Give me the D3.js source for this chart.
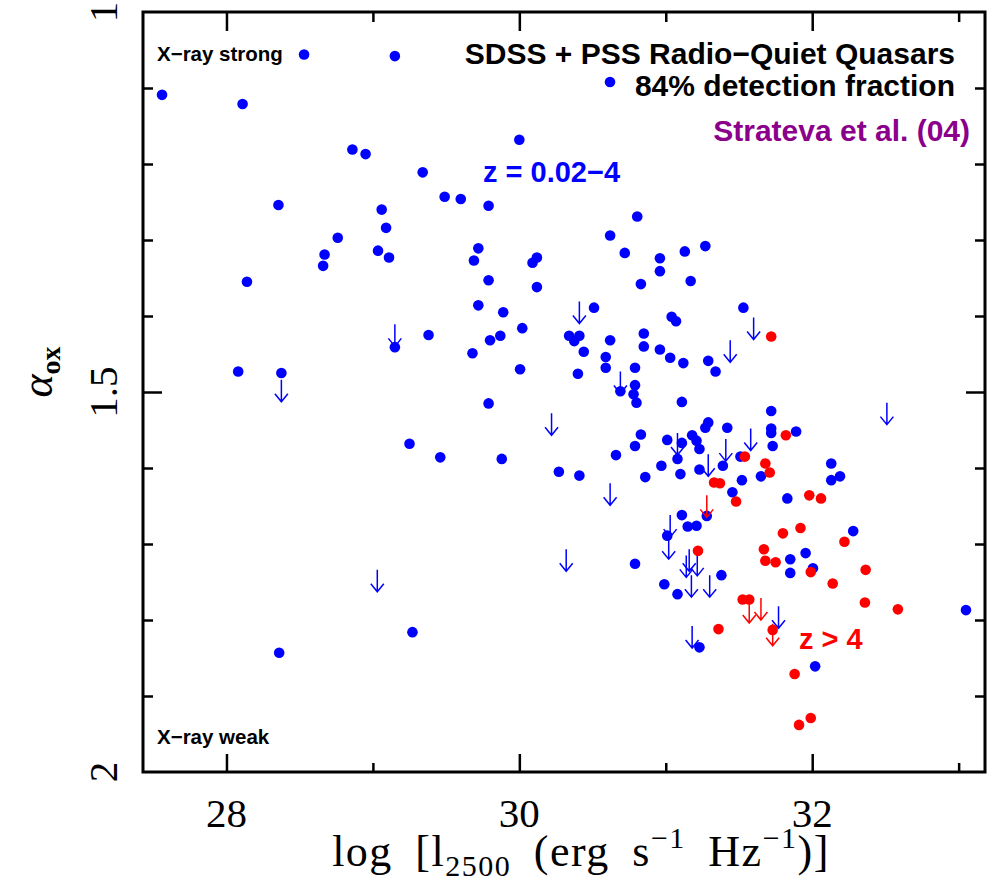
<!DOCTYPE html>
<html>
<head>
<meta charset="utf-8">
<script src="https://cdn.jsdelivr.net/npm/d3@7"></script>
<style>
  body { margin: 0; background: #fff; }
  .lab { font-family: "Liberation Sans", Arial, sans-serif; font-weight: bold; }
  .ser { font-family: "Liberation Serif", "DejaVu Serif", serif; }
</style>
</head>
<body>
<div id="chart"></div>
<script>
// blue: z = 0.02-4 detections
const blueX = [28.53, 29.15, 27.56, 28.11, 28.86, 28.95, 30.00, 29.34, 29.49, 29.60,
  29.79, 28.355, 29.06, 29.09, 28.76, 29.035, 28.67, 29.11, 29.72, 29.69,
  30.12, 30.09, 30.805, 30.62, 30.72, 30.96, 31.13, 31.27, 28.66, 28.14,
  29.79, 30.12, 29.72, 29.89, 30.02, 29.38, 29.15, 29.87, 29.80, 29.68,
  30.005, 28.08, 28.375, 29.79, 29.25, 29.46, 29.88, 30.27, 30.96, 30.83,
  31.17, 30.51, 31.53, 31.04, 31.07, 30.34, 30.41, 30.375, 30.62, 30.85,
  30.85, 30.96, 30.44, 30.59, 30.59, 31.03, 31.12, 31.29, 31.34, 30.79,
  30.40, 30.69, 30.79, 30.78, 30.80, 31.11, 31.72, 31.72, 31.72, 31.89,
  31.27, 31.29, 31.42, 30.83, 30.79, 30.66, 31.01, 31.11, 31.18, 31.21,
  31.23, 31.08, 31.51, 31.39, 31.65, 30.97, 31.23, 30.41, 30.86, 31.10,
  32.13, 32.13, 32.19, 31.52, 31.455, 31.83, 31.73, 31.11, 31.28, 31.15,
  31.21, 31.01, 30.79, 31.38, 30.99, 31.08, 32.28, 31.85, 31.955, 31.85,
  32.005, 33.05, 31.23, 32.02, 29.27, 28.36];
const blueY = [1.056, 1.058, 1.109, 1.121, 1.181, 1.187, 1.168, 1.211, 1.243, 1.246,
  1.255, 1.254, 1.260, 1.284, 1.297, 1.314, 1.319, 1.323, 1.311, 1.327,
  1.323, 1.330, 1.269, 1.294, 1.317, 1.324, 1.315, 1.308, 1.334, 1.355,
  1.353, 1.362, 1.386, 1.395, 1.416, 1.425, 1.441, 1.426, 1.432, 1.449,
  1.470, 1.473, 1.475, 1.515, 1.568, 1.586, 1.588, 1.605, 1.341, 1.358,
  1.354, 1.389, 1.389, 1.401, 1.407, 1.426, 1.426, 1.433, 1.432, 1.423,
  1.440, 1.444, 1.447, 1.454, 1.468, 1.455, 1.462, 1.459, 1.473, 1.468,
  1.476, 1.499, 1.491, 1.503, 1.514, 1.513, 1.525, 1.548, 1.554, 1.552,
  1.547, 1.540, 1.547, 1.556, 1.571, 1.583, 1.563, 1.567, 1.557, 1.564,
  1.575, 1.588, 1.585, 1.597, 1.611, 1.597, 1.602, 1.610, 1.612, 1.608,
  1.594, 1.616, 1.611, 1.616, 1.632, 1.640, 1.571, 1.662, 1.663, 1.677,
  1.676, 1.689, 1.726, 1.741, 1.753, 1.766, 1.683, 1.720, 1.712, 1.738,
  1.732, 1.787, 1.836, 1.861, 1.816, 1.843];

// red: z > 4 detections
const redX = [31.72, 31.82, 31.54, 31.68, 31.71, 31.33, 31.37, 31.48, 31.98, 32.06,
  31.22, 31.80, 31.92, 32.22, 31.67, 31.68, 31.75, 31.99, 32.14, 32.365,
  32.36, 32.585, 31.525, 31.57, 31.36, 31.73, 31.88, 31.99, 31.91];
const redY = [1.427, 1.557, 1.585, 1.594, 1.606, 1.619, 1.620, 1.644, 1.636, 1.640,
  1.709, 1.686, 1.679, 1.697, 1.707, 1.722, 1.724, 1.737, 1.752, 1.734,
  1.777, 1.786, 1.773, 1.773, 1.812, 1.813, 1.871, 1.929, 1.938];

// X-ray upper limits (arrows start at the value)
const blueLimX = [28.375, 29.15, 30.22, 30.41, 31.60, 31.44, 30.69, 32.51, 31.58, 31.08,
  31.41, 31.29, 30.62, 31.03, 31.02, 30.32, 31.16, 31.215, 31.175, 31.30,
  31.77, 31.18, 29.03, 31.14];
const blueLimY = [1.484, 1.411, 1.528, 1.381, 1.402, 1.432, 1.473, 1.514, 1.548, 1.554,
  1.562, 1.582, 1.620, 1.662, 1.691, 1.707, 1.707, 1.713, 1.741, 1.741,
  1.782, 1.808, 1.734, 1.715];
const redLimX = [31.28, 31.57, 31.65, 31.73];
const redLimY = [1.636, 1.775, 1.771, 1.805];

const xMajor = [28, 30, 32], xMinor = [29, 31, 33];
const yMajor = [1.5], yMinor = [1.1, 1.2, 1.3, 1.4, 1.6, 1.7, 1.8, 1.9];
const yLabels = [1, 1.5, 2];

const W = 988, H = 885;
const pLeft = 143, pRight = 985, pTop = 12, pBottom = 772;

const svg = d3.select("#chart").append("svg")
    .attr("width", W)
    .attr("height", H);

const x = d3.scaleLinear().domain([27.43, 33.18]).range([pLeft, pRight]);
const y = d3.scaleLinear().domain([1, 2]).range([pTop, pBottom]);

// ticks, all pointing inward
function tickAxis(axis, transform, vals, size) {
    const g = svg.append("g")
        .attr("transform", transform)
        .call(axis.tickValues(vals).tickSize(-size).tickFormat(""));
    g.select(".domain").remove();
    g.selectAll("line").attr("stroke", "black").attr("stroke-width", 2.5);
}
tickAxis(d3.axisBottom(x), `translate(0,${pBottom})`, xMajor, 18);
tickAxis(d3.axisBottom(x), `translate(0,${pBottom})`, xMinor, 9);
tickAxis(d3.axisTop(x), `translate(0,${pTop})`, xMajor, 19);
tickAxis(d3.axisTop(x), `translate(0,${pTop})`, xMinor, 10);
tickAxis(d3.axisLeft(y), `translate(${pLeft},0)`, yMajor, 19);
tickAxis(d3.axisLeft(y), `translate(${pLeft},0)`, yMinor, 10);
tickAxis(d3.axisRight(y), `translate(${pRight},0)`, yMajor, 19);
tickAxis(d3.axisRight(y), `translate(${pRight},0)`, yMinor, 10);

// frame
svg.append("rect")
    .attr("x", pLeft).attr("y", pTop)
    .attr("width", pRight - pLeft).attr("height", pBottom - pTop)
    .attr("fill", "none")
    .attr("stroke", "black")
    .attr("stroke-width", 3);

// tick labels
svg.selectAll(".xlab")
    .data(xMajor)
    .enter()
    .append("text")
    .attr("class", "ser")
    .attr("x", d => x(d))
    .attr("y", 827)
    .attr("text-anchor", "middle")
    .attr("font-size", 41)
    .text(d => d);

svg.selectAll(".ylab")
    .data(yLabels)
    .enter()
    .append("text")
    .attr("class", "ser")
    .attr("transform", d => `translate(117,${y(d)}) rotate(-90)`)
    .attr("text-anchor", "middle")
    .attr("font-size", 41)
    .text(d => d);

// axis titles
const xt = svg.append("text")
    .attr("class", "ser")
    .attr("x", 581)
    .attr("y", 866)
    .attr("text-anchor", "middle")
    .attr("font-size", 44)
    .attr("letter-spacing", 1.5)
    .attr("word-spacing", 10);
xt.append("tspan").text("log [l");
xt.append("tspan").attr("font-size", 30).attr("dy", 10).text("2500");
xt.append("tspan").attr("dy", -10).text(" (erg s");
xt.append("tspan").attr("font-size", 30).attr("dy", -18).text("\u22121");
xt.append("tspan").attr("dy", 18).text(" Hz");
xt.append("tspan").attr("font-size", 30).attr("dy", -18).text("\u22121");
xt.append("tspan").attr("dy", 18).text(")]");

const yt = svg.append("text")
    .attr("class", "ser")
    .attr("transform", "translate(52,372) rotate(-90)")
    .attr("text-anchor", "middle")
    .attr("font-size", 44);
yt.append("tspan").attr("font-style", "italic").text("\u03b1");
yt.append("tspan").attr("font-size", 28).attr("font-weight", "bold").attr("dy", 8).text("ox");

// upper-limit arrows
function arrows(xs, ys, color) {
    svg.selectAll(null)
        .data(xs.map((d, i) => [d, ys[i]]))
        .enter()
        .append("path")
        .attr("transform", d => `translate(${x(d[0])},${y(d[1])})`)
        .attr("d", "M0,0V22M-6.5,14L0,22L6.5,14")
        .attr("fill", "none")
        .attr("stroke", color)
        .attr("stroke-width", 1.5);
}

// dots
function dots(xs, ys, color) {
    svg.selectAll(null)
        .data(xs.map((d, i) => [d, ys[i]]))
        .enter()
        .append("circle")
        .attr("cx", d => x(d[0]))
        .attr("cy", d => y(d[1]))
        .attr("r", 5.3)
        .attr("fill", color);
}

dots(blueX, blueY, "blue");
arrows(blueLimX, blueLimY, "blue");
dots(redX, redY, "red");
arrows(redLimX, redLimY, "red");

// labels inside the plot
function label(txt, xp, yp, size, color, anchor) {
    svg.append("text")
        .attr("class", "lab")
        .attr("x", xp)
        .attr("y", yp)
        .attr("font-size", size)
        .attr("fill", color)
        .attr("text-anchor", anchor)
        .text(txt);
}
label("X\u2212ray strong", 157, 61, 20.5, "black", "start");
label("X\u2212ray weak", 157, 744, 20.5, "black", "start");
label("SDSS + PSS Radio\u2212Quiet Quasars", 955, 64, 30, "black", "end");
label("84% detection fraction", 955, 96, 30, "black", "end");
label("Strateva et al. (04)", 970, 141, 30, "#8b008b", "end");
label("z = 0.02\u22124", 483, 182, 29, "blue", "start");
label("z > 4", 799, 649, 29, "red", "start");

// legend marker
svg.append("circle")
    .attr("cx", 610).attr("cy", 82)
    .attr("r", 5.3)
    .attr("fill", "blue");
</script>
</body>
</html>
